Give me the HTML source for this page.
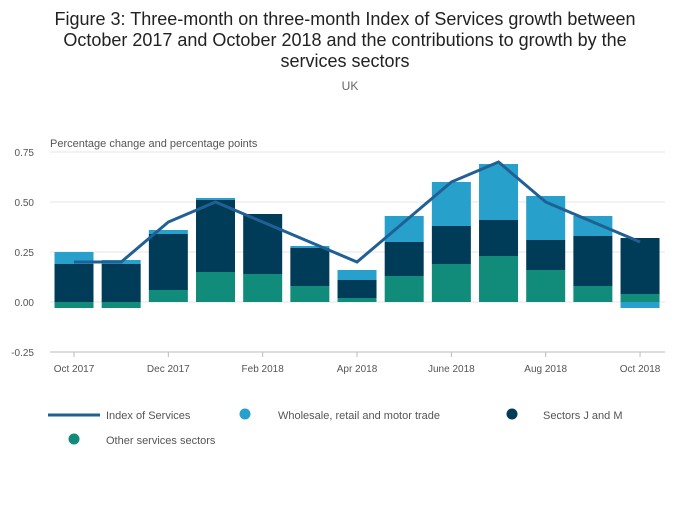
<!DOCTYPE html>
<html><head><meta charset="utf-8"><style>
body{margin:0;background:#fff;font-family:"Liberation Sans",sans-serif;}
#c{width:700px;height:502px;position:relative}
</style></head><body>
<div id="c">
<svg id="s" width="700" height="502">
<text x="345" y="25" text-anchor="middle" font-size="18" fill="#222"><tspan x="345" y="25">Figure 3: Three-month on three-month Index of Services growth between</tspan><tspan x="345" y="46">October 2017 and October 2018 and the contributions to growth by the</tspan><tspan x="345" y="67">services sectors</tspan></text>
<text x="350" y="90" text-anchor="middle" font-size="12" fill="#666">UK</text>
<text x="50" y="147" font-size="11" fill="#555">Percentage change and percentage points</text>
<g id="grid"></g><g id="bars"></g><g id="line"></g><g id="xt"></g>
<g>
<line x1="48" y1="415" x2="100" y2="415" stroke="#206095" stroke-width="3"/>
<text x="106" y="419" font-size="11" fill="#555">Index of Services</text>
<circle cx="245" cy="414" r="5.5" fill="#27a0cc"/>
<text x="278" y="419" font-size="11" fill="#555">Wholesale, retail and motor trade</text>
<circle cx="512" cy="414" r="5.5" fill="#003c57"/>
<text x="543" y="419" font-size="11" fill="#555">Sectors J and M</text>
<circle cx="74" cy="439" r="5.5" fill="#118c7b"/>
<text x="106" y="444" font-size="11" fill="#555">Other services sectors</text>
</g>
</svg></div>
<script>
const categories=["Oct 2017","Nov 2017","Dec 2017","Jan 2018","Feb 2018","Mar 2018","Apr 2018","May 2018","Jun 2018","Jul 2018","Aug 2018","Sep 2018","Oct 2018"];
const otherVals=[-0.03,-0.03,0.06,0.15,0.14,0.08,0.02,0.13,0.19,0.23,0.16,0.08,0.04];
const jmVals=[0.19,0.19,0.28,0.36,0.30,0.19,0.09,0.17,0.19,0.18,0.15,0.25,0.28];
const wholesaleVals=[0.06,0.02,0.02,0.01,0.0,0.01,0.05,0.13,0.22,0.28,0.22,0.10,-0.03];
const indexVals=[0.2,0.2,0.4,0.5,0.4,0.3,0.2,0.4,0.6,0.7,0.5,0.4,0.3];
const yTicks=[0.75,0.5,0.25,0,-0.25];
const yTickLabels=["0.75","0.50","0.25","0.00","-0.25"];
const xTickLabels=["Oct 2017","Dec 2017","Feb 2018","Apr 2018","June 2018","Aug 2018","Oct 2018"];
const xTickIdx=[0,2,4,6,8,10,12];
const NS="http://www.w3.org/2000/svg";
const y=v=>302-v*200, x=i=>74+i*47.17, bw=39;
function mk(t,a,p){const e=document.createElementNS(NS,t);for(const k in a)e.setAttribute(k,a[k]);document.getElementById(p).appendChild(e);return e;}
yTicks.forEach((v,i)=>{
 const l=mk('line',{x1:50,x2:665,y1:y(v),y2:y(v),stroke:v===-0.25?'#bbb':'#e4e4e4'},'grid');
 
 
 const t=mk('text',{x:34,y:y(v)+4,'text-anchor':'end','font-size':10,fill:'#555'},'grid');t.textContent=yTickLabels[i];
 
 
});
categories.forEach((c,i)=>{
 let pos=0,neg=0;
 [[otherVals,'#118c7b','bar-other'],[jmVals,'#003c57','bar-jm'],[wholesaleVals,'#27a0cc','bar-wholesale']].forEach(([arr,col,nm])=>{
  const v=arr[i];let y0,y1;
  if(v>=0){y0=pos;y1=pos+v;pos=y1;}else{y0=neg+v;y1=neg;neg=y0;}
  const r=mk('rect',{x:x(i)-bw/2,y:y(y1),width:bw,height:Math.max(0,y(y0)-y(y1)),fill:col},'bars');
  
  
 });
});
const p=mk('polyline',{points:indexVals.map((v,i)=>x(i)+','+y(v)).join(' '),fill:'none',stroke:'#206095','stroke-width':3},'line');


xTickIdx.forEach((ci,k)=>{
 const l=mk('line',{x1:x(ci),x2:x(ci),y1:352,y2:357,stroke:'#bbb'},'xt');
 
 
 const t=mk('text',{x:x(ci),y:372,'text-anchor':'middle','font-size':10,fill:'#555'},'xt');t.textContent=xTickLabels[k];
 
 
});
</script>
</body></html>
